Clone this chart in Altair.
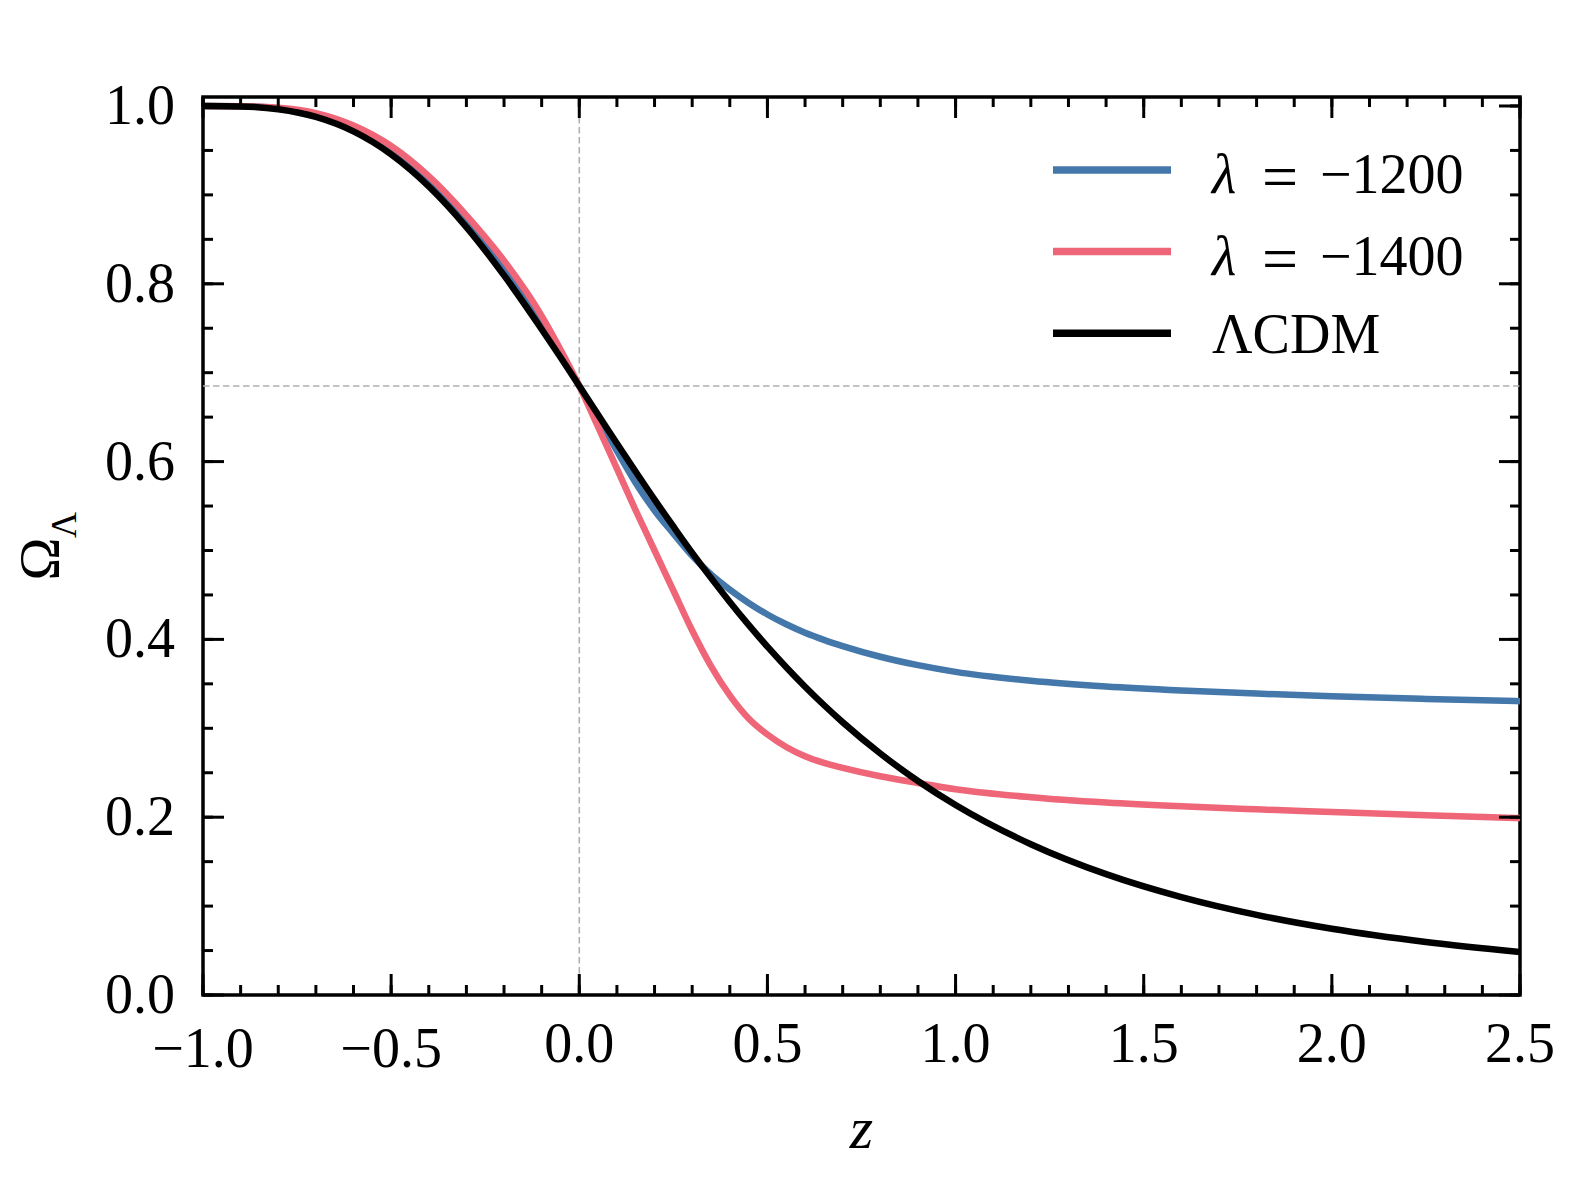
import altair as alt
import pandas as pd

# ---- data ----
z = [-1.0, -0.9, -0.8, -0.7, -0.6, -0.5, -0.4, -0.3, -0.2, -0.1, -0.05, 0.0,
     0.05, 0.1, 0.15, 0.2, 0.25, 0.3, 0.35, 0.4, 0.45, 0.5, 0.55, 0.6, 0.65,
     0.7, 0.8, 0.9, 1.0, 1.2, 1.4, 1.6, 1.8, 2.0, 2.25, 2.5]

omega_1200 = [1.000, 0.9997, 0.9975, 0.990, 0.9745, 0.950, 0.915, 0.870, 0.816, 0.755, 0.721, 0.685,
              0.649, 0.612, 0.576, 0.545, 0.519, 0.494, 0.473, 0.456, 0.441, 0.428, 0.417, 0.4075, 0.3995,
              0.3925, 0.3805, 0.371, 0.3635, 0.3535, 0.347, 0.3425, 0.339, 0.336, 0.333, 0.3305]

omega_1400 = [1.000, 0.9998, 0.998, 0.992, 0.978, 0.955, 0.921, 0.877, 0.826, 0.764, 0.726, 0.685,
              0.639, 0.592, 0.545, 0.500, 0.455, 0.410, 0.370, 0.337, 0.311, 0.293, 0.279, 0.2685, 0.261,
              0.2555, 0.246, 0.2385, 0.2315, 0.2225, 0.2165, 0.2122, 0.2088, 0.2058, 0.2022, 0.199]

omega_lcdm = [1.000, 0.9995, 0.9963, 0.9877, 0.9714, 0.9456, 0.9096, 0.8638, 0.8094, 0.7489, 0.7173, 0.685,
              0.6526, 0.6203, 0.5885, 0.5572, 0.527, 0.4974, 0.4692, 0.4421, 0.4163, 0.3918, 0.3687, 0.3468, 0.3262,
              0.3068, 0.2716, 0.2407, 0.2137, 0.1696, 0.1359, 0.1101, 0.0901, 0.0745, 0.0596, 0.0483]

series_names = ["λ = −1200", "λ = −1400", "ΛCDM"]
series_colors = ["#4477AA", "#EE6677", "#000000"]
# legend text pieces: (italic symbol, relation, value)
legend_parts = [("λ", "=", "−1200"), ("λ", "=", "−1400"), (None, None, "ΛCDM")]

x_major = [-1.0, -0.5, 0.0, 0.5, 1.0, 1.5, 2.0, 2.5]
x_labels = ["−1.0", "−0.5", "0.0", "0.5", "1.0", "1.5", "2.0", "2.5"]
x_minor = [round(-1.0 + 0.1 * i, 2) for i in range(36)]
y_major = [0.0, 0.2, 0.4, 0.6, 0.8, 1.0]
y_labels = ["0.0", "0.2", "0.4", "0.6", "0.8", "1.0"]
y_minor = [round(0.05 * i, 2) for i in range(21)]

z_ref = [0.0]
omega_ref = [0.685]

x_title = "z"
y_title_main = "Ω"
y_title_sub = "Λ"

# ---- build tables ----
rows = []
for name, vals in zip(series_names, [omega_1200, omega_1400, omega_lcdm]):
    for zz, v in zip(z, vals):
        rows.append({"z": zz, "omega": v, "series": name})
df = pd.DataFrame(rows)

xlab_df = pd.DataFrame({"v": x_major, "label": x_labels})
ylab_df = pd.DataFrame({"v": y_major, "label": y_labels})

W, H = 1317, 898
FONT = "Liberation Serif"
FS = 56

xscale = alt.Scale(domain=[-1.0, 2.5], nice=False, zero=False)
yscale = alt.Scale(domain=[0.0, 1.0101], nice=False, zero=False)
cscale = alt.Scale(domain=series_names, range=series_colors)

def X(field):
    return alt.X(field, type="quantitative", scale=xscale, axis=None)

def Y(field):
    return alt.Y(field, type="quantitative", scale=yscale, axis=None)

def line_layer(name):
    return alt.Chart(df).transform_filter(alt.datum.series == name).mark_line(
        strokeWidth=6.5, interpolate="monotone", clip=True
    ).encode(
        x=X("z"), y=Y("omega"),
        color=alt.Color("series:N", scale=cscale, legend=None),
    )

lines = [line_layer(n) for n in series_names]

dash_v = alt.Chart(pd.DataFrame({"z": z_ref})).mark_rule(
    color="#b0b0b0", strokeWidth=1.6, strokeDash=[6.5, 3.5]
).encode(x=X("z"), y=alt.value(0), y2=alt.value(H))

dash_h = alt.Chart(pd.DataFrame({"omega": omega_ref})).mark_rule(
    color="#b0b0b0", strokeWidth=1.6, strokeDash=[6.5, 3.5]
).encode(y=Y("omega"), x=alt.value(0), x2=alt.value(W))

TW = 3

def xticks(vals, length):
    d = alt.Chart(pd.DataFrame({"v": vals}))
    bot = d.mark_rule(color="black", strokeWidth=TW).encode(
        x=X("v"), y=alt.value(H), y2=alt.value(H - length))
    top = d.mark_rule(color="black", strokeWidth=TW).encode(
        x=X("v"), y=alt.value(0), y2=alt.value(length))
    return [bot, top]

def yticks(vals, length):
    d = alt.Chart(pd.DataFrame({"v": vals}))
    left = d.mark_rule(color="black", strokeWidth=TW).encode(
        y=Y("v"), x=alt.value(0), x2=alt.value(length))
    right = d.mark_rule(color="black", strokeWidth=TW).encode(
        y=Y("v"), x=alt.value(W), x2=alt.value(W - length))
    return [left, right]

tick_layers = xticks(x_minor, 10) + xticks(x_major, 21) + yticks(y_minor, 10) + yticks(y_major, 21)

# tick labels (through the scales)
xlab_pos = alt.Chart(xlab_df).transform_filter(alt.datum.v >= 0).mark_text(
    font=FONT, fontSize=FS, align="center", baseline="alphabetic", color="black"
).encode(x=X("v"), y=alt.value(H + 67), text="label:N")
xlab_neg = alt.Chart(xlab_df).transform_filter(alt.datum.v < 0).mark_text(
    font=FONT, fontSize=FS, align="center", baseline="alphabetic", color="black"
).encode(x=X("v"), y=alt.value(H + 72), text="label:N")
ylab = alt.Chart(ylab_df).mark_text(
    font=FONT, fontSize=FS, align="right", baseline="middle", color="black", dx=-28, dy=1
).encode(y=Y("v"), x=alt.value(0), text="label:N")

one = pd.DataFrame({"t": [0]})

# axis titles
xtitle = alt.Chart(one).mark_text(
    font=FONT, fontSize=60, fontStyle="italic", align="center", baseline="alphabetic", color="black"
).encode(x=alt.value(W / 2), y=alt.value(H + 153), text=alt.value(x_title))
ytitle_main = alt.Chart(one).mark_text(
    font=FONT, fontSize=58, angle=270, align="center", baseline="middle", color="black"
).encode(x=alt.value(-161), y=alt.value(462), text=alt.value(y_title_main))
ytitle_sub = alt.Chart(one).mark_text(
    font=FONT, fontSize=36, angle=270, align="center", baseline="middle", color="black"
).encode(x=alt.value(-138), y=alt.value(428), text=alt.value(y_title_sub))

# legend (drawn by hand, top right)
LEG_X0, LEG_X1 = 850, 968
LEG_TEXT = 1009
LEG_Y0, LEG_DY = 73, 81.6
legend_layers = []
for i, (color, parts) in enumerate(zip(series_colors, legend_parts)):
    yy = LEG_Y0 + i * LEG_DY
    legend_layers.append(alt.Chart(one).mark_rule(color=color, strokeWidth=7.5).encode(
        x=alt.value(LEG_X0), x2=alt.value(LEG_X1), y=alt.value(yy)))
    sym, rel, val = parts
    if sym is None:
        legend_layers.append(alt.Chart(one).mark_text(
            font=FONT, fontSize=FS, align="left", baseline="alphabetic", color="black"
        ).encode(x=alt.value(LEG_TEXT), y=alt.value(yy + 19.5), text=alt.value(val)))
    else:
        legend_layers.append(alt.Chart(one).mark_text(
            font=FONT, fontSize=FS, fontStyle="italic", align="left", baseline="alphabetic", color="black"
        ).encode(x=alt.value(LEG_TEXT), y=alt.value(yy + 23), text=alt.value(sym)))
        legend_layers.append(alt.Chart(one).mark_text(
            font=FONT, fontSize=64, align="center", baseline="alphabetic", color="black"
        ).encode(x=alt.value(LEG_TEXT + 68), y=alt.value(yy + 28), text=alt.value(rel)))
        legend_layers.append(alt.Chart(one).mark_text(
            font=FONT, fontSize=FS, align="left", baseline="alphabetic", color="black"
        ).encode(x=alt.value(LEG_TEXT + 108), y=alt.value(yy + 23), text=alt.value(val)))

chart = alt.layer(
    dash_v, dash_h, *lines, *tick_layers, xlab_pos, xlab_neg, ylab,
    xtitle, ytitle_main, ytitle_sub, *legend_layers
).properties(
    width=W, height=H,
    autosize=alt.AutoSizeParams(type="none"),
    padding={"left": 195, "top": 89, "right": 40, "bottom": 170},
    background="white",
).configure_view(
    stroke="black", strokeWidth=3.5
)

chart.save("out.html", embed_options={"renderer": "svg", "actions": False})
